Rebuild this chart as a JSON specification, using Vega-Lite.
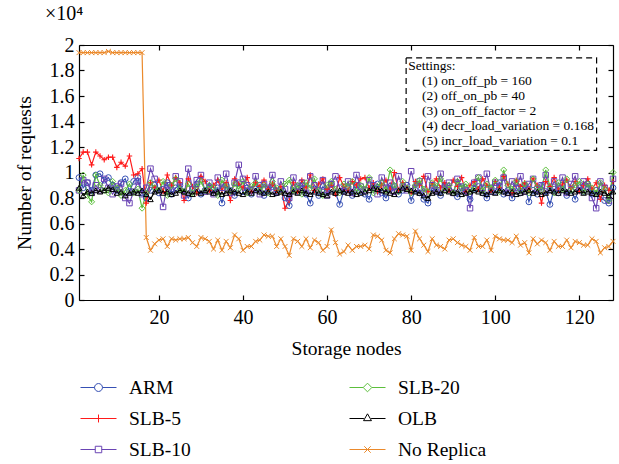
{
  "$schema": "https://vega.github.io/schema/vega-lite/v6.json",
  "width": 534,
  "height": 255,
  "autosize": {"type": "none"},
  "padding": {"left": 79, "top": 45, "right": 6, "bottom": 164},
  "background": "white",
  "title": {"text": "×10⁴", "anchor": "start", "frame": "group", "dx": -34, "offset": 11, "fontSize": 20, "fontWeight": "normal", "font": "Liberation Serif", "color": "black"},
  "config": {
    "font": "Liberation Serif",
    "view": {"stroke": null},
    "axis": {"domainColor": "black", "tickColor": "black", "labelColor": "black", "titleColor": "black", "labelFont": "Liberation Serif", "titleFont": "Liberation Serif", "labelFontSize": 20, "titleFontSize": 19.5, "titleFontWeight": "normal", "grid": false, "tickSize": -5, "domainWidth": 1.2, "tickWidth": 1.2},
    "legend": {"orient": "none", "legendX": 1, "legendY": 324, "columns": 2, "columnPadding": 156, "rowPadding": 3, "labelFont": "Liberation Serif", "labelFontSize": 19.5, "labelColor": "black", "labelOffset": 12, "symbolSize": 1296, "symbolStrokeWidth": 1, "title": null}
  },
  "resolve": {"axis": {"x": "independent", "y": "independent"}},
  "datasets": {
    "series": [
      {"n":1,"ARM":0.96,"SLB-5":1.11,"SLB-10":0.86,"SLB-20":0.86,"OLB":0.88,"No Replica":1.94},
      {"n":2,"ARM":0.88,"SLB-5":1.16,"SLB-10":0.94,"SLB-20":0.98,"OLB":0.82,"No Replica":1.94},
      {"n":3,"ARM":0.92,"SLB-5":1.16,"SLB-10":0.92,"SLB-20":0.82,"OLB":0.85,"No Replica":1.94},
      {"n":4,"ARM":0.86,"SLB-5":1.06,"SLB-10":0.84,"SLB-20":0.77,"OLB":0.84,"No Replica":1.94},
      {"n":5,"ARM":0.98,"SLB-5":1.16,"SLB-10":0.90,"SLB-20":0.98,"OLB":0.86,"No Replica":1.94},
      {"n":6,"ARM":0.99,"SLB-5":1.13,"SLB-10":0.86,"SLB-20":0.90,"OLB":0.85,"No Replica":1.94},
      {"n":7,"ARM":0.94,"SLB-5":1.10,"SLB-10":0.95,"SLB-20":0.86,"OLB":0.86,"No Replica":1.94},
      {"n":8,"ARM":0.96,"SLB-5":1.12,"SLB-10":0.88,"SLB-20":0.84,"OLB":0.88,"No Replica":1.95},
      {"n":9,"ARM":0.90,"SLB-5":1.12,"SLB-10":0.83,"SLB-20":0.93,"OLB":0.87,"No Replica":1.94},
      {"n":10,"ARM":0.86,"SLB-5":1.04,"SLB-10":0.89,"SLB-20":0.88,"OLB":0.84,"No Replica":1.94},
      {"n":11,"ARM":0.92,"SLB-5":1.08,"SLB-10":0.91,"SLB-20":0.82,"OLB":0.85,"No Replica":1.94},
      {"n":12,"ARM":0.95,"SLB-5":1.05,"SLB-10":0.80,"SLB-20":0.86,"OLB":0.82,"No Replica":1.94},
      {"n":13,"ARM":0.85,"SLB-5":1.13,"SLB-10":0.76,"SLB-20":0.91,"OLB":0.84,"No Replica":1.94},
      {"n":14,"ARM":0.93,"SLB-5":0.98,"SLB-10":0.85,"SLB-20":0.84,"OLB":0.85,"No Replica":1.94},
      {"n":15,"ARM":0.96,"SLB-5":0.99,"SLB-10":0.93,"SLB-20":0.87,"OLB":0.84,"No Replica":1.94},
      {"n":16,"ARM":0.84,"SLB-5":1.03,"SLB-10":0.83,"SLB-20":0.72,"OLB":0.86,"No Replica":1.94},
      {"n":17,"ARM":0.80,"SLB-5":0.76,"SLB-10":0.88,"SLB-20":0.84,"OLB":0.83,"No Replica":0.49},
      {"n":18,"ARM":0.86,"SLB-5":0.92,"SLB-10":1.03,"SLB-20":0.92,"OLB":0.79,"No Replica":0.39},
      {"n":19,"ARM":0.90,"SLB-5":0.88,"SLB-10":0.95,"SLB-20":0.88,"OLB":0.85,"No Replica":0.44},
      {"n":20,"ARM":0.84,"SLB-5":0.94,"SLB-10":0.86,"SLB-20":0.86,"OLB":0.86,"No Replica":0.47},
      {"n":21,"ARM":0.87,"SLB-5":0.85,"SLB-10":0.73,"SLB-20":0.93,"OLB":0.84,"No Replica":0.48},
      {"n":22,"ARM":0.92,"SLB-5":0.98,"SLB-10":0.90,"SLB-20":0.82,"OLB":0.85,"No Replica":0.42},
      {"n":23,"ARM":0.83,"SLB-5":0.90,"SLB-10":0.86,"SLB-20":0.90,"OLB":0.83,"No Replica":0.48},
      {"n":24,"ARM":0.88,"SLB-5":0.96,"SLB-10":0.97,"SLB-20":0.95,"OLB":0.84,"No Replica":0.47},
      {"n":25,"ARM":0.90,"SLB-5":0.92,"SLB-10":0.93,"SLB-20":0.87,"OLB":0.86,"No Replica":0.48},
      {"n":26,"ARM":0.85,"SLB-5":0.78,"SLB-10":0.82,"SLB-20":0.85,"OLB":0.85,"No Replica":0.48},
      {"n":27,"ARM":0.80,"SLB-5":0.95,"SLB-10":1.03,"SLB-20":0.91,"OLB":0.84,"No Replica":0.49},
      {"n":28,"ARM":0.87,"SLB-5":0.89,"SLB-10":0.87,"SLB-20":0.84,"OLB":0.83,"No Replica":0.45},
      {"n":29,"ARM":0.91,"SLB-5":0.84,"SLB-10":0.94,"SLB-20":0.89,"OLB":0.85,"No Replica":0.42},
      {"n":30,"ARM":0.83,"SLB-5":0.97,"SLB-10":0.98,"SLB-20":0.93,"OLB":0.84,"No Replica":0.49},
      {"n":31,"ARM":0.86,"SLB-5":0.93,"SLB-10":0.85,"SLB-20":0.86,"OLB":0.86,"No Replica":0.48},
      {"n":32,"ARM":0.89,"SLB-5":0.86,"SLB-10":0.92,"SLB-20":0.90,"OLB":0.85,"No Replica":0.46},
      {"n":33,"ARM":0.84,"SLB-5":0.90,"SLB-10":0.83,"SLB-20":0.88,"OLB":0.84,"No Replica":0.40},
      {"n":34,"ARM":0.88,"SLB-5":0.94,"SLB-10":0.96,"SLB-20":0.82,"OLB":0.85,"No Replica":0.47},
      {"n":35,"ARM":0.76,"SLB-5":0.86,"SLB-10":0.88,"SLB-20":0.94,"OLB":0.83,"No Replica":0.39},
      {"n":36,"ARM":0.90,"SLB-5":0.92,"SLB-10":0.99,"SLB-20":0.89,"OLB":0.84,"No Replica":0.46},
      {"n":37,"ARM":0.86,"SLB-5":0.78,"SLB-10":0.84,"SLB-20":0.85,"OLB":0.86,"No Replica":0.41},
      {"n":38,"ARM":0.82,"SLB-5":0.95,"SLB-10":0.92,"SLB-20":0.91,"OLB":0.85,"No Replica":0.51},
      {"n":39,"ARM":0.92,"SLB-5":0.91,"SLB-10":1.06,"SLB-20":0.87,"OLB":0.84,"No Replica":0.48},
      {"n":40,"ARM":0.85,"SLB-5":0.88,"SLB-10":0.95,"SLB-20":0.93,"OLB":0.83,"No Replica":0.39},
      {"n":41,"ARM":0.88,"SLB-5":0.96,"SLB-10":0.90,"SLB-20":0.84,"OLB":0.85,"No Replica":0.42},
      {"n":42,"ARM":0.83,"SLB-5":0.85,"SLB-10":0.86,"SLB-20":0.89,"OLB":0.84,"No Replica":0.42},
      {"n":43,"ARM":0.87,"SLB-5":0.92,"SLB-10":0.97,"SLB-20":0.92,"OLB":0.86,"No Replica":0.46},
      {"n":44,"ARM":0.90,"SLB-5":0.89,"SLB-10":0.83,"SLB-20":0.86,"OLB":0.85,"No Replica":0.47},
      {"n":45,"ARM":0.82,"SLB-5":0.94,"SLB-10":0.91,"SLB-20":0.90,"OLB":0.84,"No Replica":0.51},
      {"n":46,"ARM":0.86,"SLB-5":0.87,"SLB-10":0.88,"SLB-20":0.84,"OLB":0.85,"No Replica":0.50},
      {"n":47,"ARM":0.89,"SLB-5":0.91,"SLB-10":0.98,"SLB-20":0.93,"OLB":0.83,"No Replica":0.50},
      {"n":48,"ARM":0.84,"SLB-5":0.86,"SLB-10":0.85,"SLB-20":0.88,"OLB":0.84,"No Replica":0.42},
      {"n":49,"ARM":0.87,"SLB-5":0.89,"SLB-10":0.93,"SLB-20":0.85,"OLB":0.85,"No Replica":0.48},
      {"n":50,"ARM":0.80,"SLB-5":0.72,"SLB-10":0.87,"SLB-20":0.91,"OLB":0.84,"No Replica":0.42},
      {"n":51,"ARM":0.74,"SLB-5":0.78,"SLB-10":0.80,"SLB-20":0.94,"OLB":0.83,"No Replica":0.35},
      {"n":52,"ARM":0.88,"SLB-5":0.92,"SLB-10":0.96,"SLB-20":0.86,"OLB":0.85,"No Replica":0.48},
      {"n":53,"ARM":0.85,"SLB-5":0.85,"SLB-10":0.89,"SLB-20":0.90,"OLB":0.84,"No Replica":0.46},
      {"n":54,"ARM":0.90,"SLB-5":0.94,"SLB-10":0.92,"SLB-20":0.83,"OLB":0.86,"No Replica":0.42},
      {"n":55,"ARM":0.83,"SLB-5":0.88,"SLB-10":0.84,"SLB-20":0.92,"OLB":0.84,"No Replica":0.48},
      {"n":56,"ARM":0.76,"SLB-5":0.98,"SLB-10":0.97,"SLB-20":0.88,"OLB":0.83,"No Replica":0.41},
      {"n":57,"ARM":0.87,"SLB-5":0.86,"SLB-10":0.90,"SLB-20":0.95,"OLB":0.85,"No Replica":0.47},
      {"n":58,"ARM":0.82,"SLB-5":0.91,"SLB-10":0.86,"SLB-20":0.86,"OLB":0.84,"No Replica":0.45},
      {"n":59,"ARM":0.89,"SLB-5":0.95,"SLB-10":0.94,"SLB-20":0.82,"OLB":0.83,"No Replica":0.39},
      {"n":60,"ARM":0.85,"SLB-5":0.87,"SLB-10":0.82,"SLB-20":0.90,"OLB":0.82,"No Replica":0.42},
      {"n":61,"ARM":0.91,"SLB-5":0.90,"SLB-10":0.91,"SLB-20":0.93,"OLB":0.85,"No Replica":0.55},
      {"n":62,"ARM":0.84,"SLB-5":0.83,"SLB-10":0.97,"SLB-20":0.87,"OLB":0.84,"No Replica":0.45},
      {"n":63,"ARM":0.75,"SLB-5":0.96,"SLB-10":0.88,"SLB-20":0.84,"OLB":0.86,"No Replica":0.36},
      {"n":64,"ARM":0.86,"SLB-5":0.89,"SLB-10":0.85,"SLB-20":0.91,"OLB":0.85,"No Replica":0.38},
      {"n":65,"ARM":0.88,"SLB-5":0.86,"SLB-10":0.93,"SLB-20":0.89,"OLB":0.84,"No Replica":0.43},
      {"n":66,"ARM":0.82,"SLB-5":0.93,"SLB-10":0.84,"SLB-20":0.93,"OLB":0.85,"No Replica":0.39},
      {"n":67,"ARM":0.90,"SLB-5":0.90,"SLB-10":0.98,"SLB-20":0.85,"OLB":0.83,"No Replica":0.42},
      {"n":68,"ARM":0.85,"SLB-5":0.95,"SLB-10":0.89,"SLB-20":0.90,"OLB":0.84,"No Replica":0.42},
      {"n":69,"ARM":0.83,"SLB-5":0.96,"SLB-10":0.86,"SLB-20":0.87,"OLB":0.85,"No Replica":0.43},
      {"n":70,"ARM":0.79,"SLB-5":0.88,"SLB-10":0.94,"SLB-20":0.96,"OLB":0.86,"No Replica":0.40},
      {"n":71,"ARM":0.88,"SLB-5":0.92,"SLB-10":0.90,"SLB-20":0.84,"OLB":0.88,"No Replica":0.51},
      {"n":72,"ARM":0.91,"SLB-5":0.85,"SLB-10":0.83,"SLB-20":0.89,"OLB":0.87,"No Replica":0.50},
      {"n":73,"ARM":0.84,"SLB-5":0.90,"SLB-10":0.96,"SLB-20":0.92,"OLB":0.86,"No Replica":0.47},
      {"n":74,"ARM":0.80,"SLB-5":0.94,"SLB-10":0.88,"SLB-20":0.86,"OLB":0.85,"No Replica":0.39},
      {"n":75,"ARM":0.87,"SLB-5":0.87,"SLB-10":0.92,"SLB-20":1.02,"OLB":0.84,"No Replica":0.37},
      {"n":76,"ARM":0.89,"SLB-5":1.00,"SLB-10":0.85,"SLB-20":0.90,"OLB":0.83,"No Replica":0.48},
      {"n":77,"ARM":0.83,"SLB-5":0.86,"SLB-10":0.97,"SLB-20":0.85,"OLB":0.86,"No Replica":0.52},
      {"n":78,"ARM":0.86,"SLB-5":0.92,"SLB-10":0.89,"SLB-20":0.93,"OLB":0.88,"No Replica":0.51},
      {"n":79,"ARM":0.90,"SLB-5":0.88,"SLB-10":0.86,"SLB-20":0.88,"OLB":0.87,"No Replica":0.50},
      {"n":80,"ARM":0.78,"SLB-5":0.84,"SLB-10":1.01,"SLB-20":0.84,"OLB":0.86,"No Replica":0.39},
      {"n":81,"ARM":0.86,"SLB-5":0.93,"SLB-10":0.88,"SLB-20":0.90,"OLB":0.85,"No Replica":0.54},
      {"n":82,"ARM":0.84,"SLB-5":0.90,"SLB-10":0.93,"SLB-20":0.94,"OLB":0.84,"No Replica":0.48},
      {"n":83,"ARM":0.79,"SLB-5":0.97,"SLB-10":0.84,"SLB-20":0.87,"OLB":0.82,"No Replica":0.43},
      {"n":84,"ARM":0.76,"SLB-5":0.85,"SLB-10":0.97,"SLB-20":0.85,"OLB":0.80,"No Replica":0.38},
      {"n":85,"ARM":0.88,"SLB-5":0.91,"SLB-10":0.90,"SLB-20":0.92,"OLB":0.84,"No Replica":0.48},
      {"n":86,"ARM":0.85,"SLB-5":0.95,"SLB-10":0.86,"SLB-20":0.89,"OLB":0.85,"No Replica":0.43},
      {"n":87,"ARM":0.82,"SLB-5":0.88,"SLB-10":0.99,"SLB-20":0.95,"OLB":0.84,"No Replica":0.42},
      {"n":88,"ARM":0.90,"SLB-5":0.92,"SLB-10":0.88,"SLB-20":0.86,"OLB":0.86,"No Replica":0.40},
      {"n":89,"ARM":0.86,"SLB-5":0.86,"SLB-10":0.92,"SLB-20":0.90,"OLB":0.85,"No Replica":0.47},
      {"n":90,"ARM":0.84,"SLB-5":0.94,"SLB-10":0.84,"SLB-20":0.84,"OLB":0.84,"No Replica":0.48},
      {"n":91,"ARM":0.81,"SLB-5":0.89,"SLB-10":0.95,"SLB-20":0.93,"OLB":0.85,"No Replica":0.45},
      {"n":92,"ARM":0.88,"SLB-5":0.96,"SLB-10":0.89,"SLB-20":0.88,"OLB":0.83,"No Replica":0.43},
      {"n":93,"ARM":0.85,"SLB-5":0.85,"SLB-10":0.86,"SLB-20":0.91,"OLB":0.84,"No Replica":0.42},
      {"n":94,"ARM":0.79,"SLB-5":0.90,"SLB-10":0.72,"SLB-20":0.85,"OLB":0.85,"No Replica":0.39},
      {"n":95,"ARM":0.87,"SLB-5":0.93,"SLB-10":0.92,"SLB-20":0.89,"OLB":0.86,"No Replica":0.49},
      {"n":96,"ARM":0.89,"SLB-5":0.87,"SLB-10":0.96,"SLB-20":0.96,"OLB":0.85,"No Replica":0.42},
      {"n":97,"ARM":0.84,"SLB-5":0.95,"SLB-10":0.88,"SLB-20":0.86,"OLB":0.84,"No Replica":0.42},
      {"n":98,"ARM":0.80,"SLB-5":0.90,"SLB-10":0.99,"SLB-20":0.91,"OLB":0.83,"No Replica":0.47},
      {"n":99,"ARM":0.88,"SLB-5":0.86,"SLB-10":0.85,"SLB-20":0.88,"OLB":0.85,"No Replica":0.39},
      {"n":100,"ARM":0.85,"SLB-5":0.93,"SLB-10":0.92,"SLB-20":0.94,"OLB":0.84,"No Replica":0.50},
      {"n":101,"ARM":0.92,"SLB-5":0.88,"SLB-10":0.89,"SLB-20":0.85,"OLB":0.86,"No Replica":0.48},
      {"n":102,"ARM":0.83,"SLB-5":0.97,"SLB-10":0.96,"SLB-20":1.02,"OLB":0.85,"No Replica":0.47},
      {"n":103,"ARM":0.86,"SLB-5":0.91,"SLB-10":0.84,"SLB-20":0.90,"OLB":0.84,"No Replica":0.47},
      {"n":104,"ARM":0.80,"SLB-5":0.84,"SLB-10":0.93,"SLB-20":0.87,"OLB":0.85,"No Replica":0.45},
      {"n":105,"ARM":0.88,"SLB-5":0.94,"SLB-10":0.88,"SLB-20":0.93,"OLB":0.83,"No Replica":0.50},
      {"n":106,"ARM":0.84,"SLB-5":0.89,"SLB-10":0.97,"SLB-20":0.86,"OLB":0.84,"No Replica":0.43},
      {"n":107,"ARM":0.90,"SLB-5":0.92,"SLB-10":0.85,"SLB-20":0.91,"OLB":0.85,"No Replica":0.45},
      {"n":108,"ARM":0.77,"SLB-5":0.87,"SLB-10":0.91,"SLB-20":0.84,"OLB":0.86,"No Replica":0.37},
      {"n":109,"ARM":0.86,"SLB-5":0.95,"SLB-10":0.95,"SLB-20":0.95,"OLB":0.84,"No Replica":0.48},
      {"n":110,"ARM":0.83,"SLB-5":0.90,"SLB-10":0.87,"SLB-20":0.88,"OLB":0.85,"No Replica":0.44},
      {"n":111,"ARM":0.89,"SLB-5":0.76,"SLB-10":0.90,"SLB-20":0.86,"OLB":0.83,"No Replica":0.47},
      {"n":112,"ARM":0.85,"SLB-5":0.93,"SLB-10":0.98,"SLB-20":1.02,"OLB":0.84,"No Replica":0.45},
      {"n":113,"ARM":0.75,"SLB-5":0.89,"SLB-10":0.86,"SLB-20":0.89,"OLB":0.86,"No Replica":0.39},
      {"n":114,"ARM":0.87,"SLB-5":0.96,"SLB-10":0.93,"SLB-20":0.84,"OLB":0.85,"No Replica":0.46},
      {"n":115,"ARM":0.84,"SLB-5":0.86,"SLB-10":0.88,"SLB-20":0.92,"OLB":0.84,"No Replica":0.42},
      {"n":116,"ARM":0.90,"SLB-5":0.91,"SLB-10":0.96,"SLB-20":0.87,"OLB":0.86,"No Replica":0.42},
      {"n":117,"ARM":0.82,"SLB-5":0.94,"SLB-10":0.84,"SLB-20":0.95,"OLB":0.85,"No Replica":0.47},
      {"n":118,"ARM":0.86,"SLB-5":0.88,"SLB-10":0.91,"SLB-20":0.86,"OLB":0.84,"No Replica":0.41},
      {"n":119,"ARM":0.79,"SLB-5":0.93,"SLB-10":0.97,"SLB-20":0.90,"OLB":0.85,"No Replica":0.46},
      {"n":120,"ARM":0.88,"SLB-5":0.85,"SLB-10":0.86,"SLB-20":0.93,"OLB":0.86,"No Replica":0.45},
      {"n":121,"ARM":0.85,"SLB-5":0.90,"SLB-10":0.93,"SLB-20":0.85,"OLB":0.84,"No Replica":0.43},
      {"n":122,"ARM":0.91,"SLB-5":0.95,"SLB-10":0.89,"SLB-20":0.91,"OLB":0.85,"No Replica":0.43},
      {"n":123,"ARM":0.83,"SLB-5":0.87,"SLB-10":0.80,"SLB-20":0.88,"OLB":0.84,"No Replica":0.48},
      {"n":124,"ARM":0.86,"SLB-5":0.92,"SLB-10":0.72,"SLB-20":0.84,"OLB":0.83,"No Replica":0.46},
      {"n":125,"ARM":0.81,"SLB-5":0.79,"SLB-10":0.93,"SLB-20":0.92,"OLB":0.85,"No Replica":0.37},
      {"n":126,"ARM":0.78,"SLB-5":0.90,"SLB-10":0.88,"SLB-20":0.87,"OLB":0.84,"No Replica":0.41},
      {"n":127,"ARM":0.76,"SLB-5":0.86,"SLB-10":0.78,"SLB-20":0.78,"OLB":0.82,"No Replica":0.42},
      {"n":128,"ARM":0.88,"SLB-5":0.93,"SLB-10":0.95,"SLB-20":1.00,"OLB":0.85,"No Replica":0.46}
    ]
  },
  "layer": [
    {
      "data": {"name": "series"},
      "transform": [{"fold": ["No Replica", "ARM", "SLB-5", "SLB-10", "SLB-20", "OLB"], "as": ["method", "value"]}],
      "mark": {"type": "line", "strokeWidth": 1.2},
      "encoding": {
        "x": {"field": "n", "type": "quantitative", "scale": {"domain": [1, 128], "nice": false, "zero": false}, "axis": {"orient": "bottom", "values": [20, 40, 60, 80, 100, 120], "title": "Storage nodes", "labelPadding": 12, "titlePadding": 12}},
        "y": {"field": "value", "type": "quantitative", "scale": {"domain": [0, 2], "nice": false}, "axis": {"orient": "left", "values": [0, 0.2, 0.4, 0.6, 0.8, 1, 1.2, 1.4, 1.6, 1.8, 2], "format": "~g", "title": "Number of requests", "labelPadding": 10, "titlePadding": 15}},
        "color": {"field": "method", "type": "nominal", "scale": {"domain": ["ARM", "SLB-5", "SLB-10", "SLB-20", "OLB", "No Replica"], "range": ["#3650b4", "#ff1a1a", "#6a44b4", "#5cbf3c", "#000000", "#eb8a2c"]}, "legend": {"symbolType": "circle", "encode": {"symbols": {"update": {"shape": {"signal": "datum.value === 'ARM' ? 'M-1,0L-0.22,0M0.22,0L1,0M0.22,0A0.22,0.22,0,1,1,-0.22,0A0.22,0.22,0,1,1,0.22,0' : datum.value === 'SLB-5' ? 'M-1,0L1,0M0,-0.22L0,0.22' : datum.value === 'SLB-10' ? 'M-1,0L-0.18,0M0.18,0L1,0M-0.18,-0.18L0.18,-0.18L0.18,0.18L-0.18,0.18Z' : datum.value === 'SLB-20' ? 'M-1,0L-0.24,0M0.24,0L1,0M-0.24,0L0,-0.24L0.24,0L0,0.24Z' : datum.value === 'OLB' ? 'M-1,0L-0.2,0M0.2,0L1,0M-0.22,0.12L0,-0.26L0.22,0.12Z' : 'M-1,0L1,0M-0.18,-0.18L0.18,0.18M-0.18,0.18L0.18,-0.18'"}, "fill": {"value": "transparent"}, "strokeWidth": {"value": 1}}}}}}
      }
    },
    {
      "data": {"name": "series"},
      "transform": [{"fold": ["No Replica", "ARM", "SLB-5", "SLB-10", "SLB-20", "OLB"], "as": ["method", "value"]}],
      "encoding": {
        "x": {"field": "n", "type": "quantitative", "axis": null},
        "y": {"field": "value", "type": "quantitative", "axis": null},
        "color": {"field": "method", "type": "nominal"}
      },
      "layer": [
        {"transform": [{"filter": {"field": "method", "equal": "No Replica"}}], "mark": {"type": "point", "filled": false, "size": 24, "strokeWidth": 1, "opacity": 1, "shape": "M-1,-1L1,1M-1,1L1,-1"}},
        {"transform": [{"filter": {"field": "method", "equal": "ARM"}}], "mark": {"type": "point", "filled": false, "size": 34, "strokeWidth": 1, "opacity": 1, "shape": "circle"}},
        {"transform": [{"filter": {"field": "method", "equal": "SLB-5"}}], "mark": {"type": "point", "filled": false, "size": 30, "strokeWidth": 1.1, "opacity": 1, "shape": "M-1,0L1,0M0,-1L0,1"}},
        {"transform": [{"filter": {"field": "method", "equal": "SLB-10"}}], "mark": {"type": "point", "filled": false, "size": 30, "strokeWidth": 1, "opacity": 1, "shape": "square"}},
        {"transform": [{"filter": {"field": "method", "equal": "SLB-20"}}], "mark": {"type": "point", "filled": false, "size": 36, "strokeWidth": 1, "opacity": 1, "shape": "diamond"}},
        {"transform": [{"filter": {"field": "method", "equal": "OLB"}}], "mark": {"type": "point", "filled": false, "size": 30, "strokeWidth": 1, "opacity": 1, "shape": "triangle-up"}}
      ]
    },
    {
      "data": {"values": [{}]},
      "mark": {"type": "rect", "fill": "white", "stroke": "black", "strokeDash": [6, 4], "strokeWidth": 1.2},
      "encoding": {
        "x": {"datum": 78.8, "type": "quantitative", "axis": {"orient": "top", "labels": false, "title": null, "values": [20, 40, 60, 80, 100, 120]}},
        "x2": {"datum": 124.1},
        "y": {"datum": 1.899, "type": "quantitative", "axis": {"orient": "right", "labels": false, "title": null, "values": [0, 0.2, 0.4, 0.6, 0.8, 1, 1.2, 1.4, 1.6, 1.8, 2]}},
        "y2": {"datum": 1.173}
      }
    },
    {
      "data": {"values": [{}]},
      "mark": {"type": "text", "align": "left", "baseline": "middle", "fontSize": 13.5, "font": "Liberation Serif", "color": "black"},
      "encoding": {
        "x": {"datum": 79.3, "type": "quantitative", "axis": null},
        "y": {"datum": 1.835, "type": "quantitative", "axis": null},
        "text": {"value": "Settings:"}
      }
    },
    {
      "data": {"values": [{}]},
      "mark": {"type": "text", "align": "left", "baseline": "top", "fontSize": 13.5, "lineHeight": 15, "font": "Liberation Serif", "color": "black"},
      "encoding": {
        "x": {"datum": 82.6, "type": "quantitative", "axis": null},
        "y": {"datum": 1.772, "type": "quantitative", "axis": null},
        "text": {"value": ["(1) on_off_pb = 160", "(2) off_on_pb = 40", "(3) on_off_factor = 2", "(4) decr_load_variation = 0.168", "(5) incr_load_variation = 0.1"]}
      }
    }
  ]
}
